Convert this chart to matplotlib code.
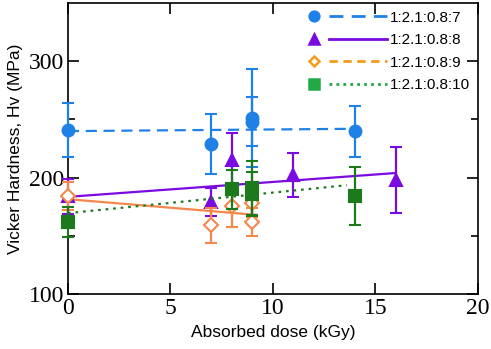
import numpy as np
import matplotlib
matplotlib.use("Agg")
import matplotlib.pyplot as plt
from matplotlib.lines import Line2D
from matplotlib.legend_handler import HandlerLine2DCompound

# ratios in the legend
etiquetas = ["1:2.1:0.8:7", "1:2.1:0.8:8", "1:2.1:0.8:9", "1:2.1:0.8:10"]

# 1:2.1:0.8:7 (blue circles)
x7 = [0, 7, 9, 9, 14]
y7 = [241, 229, 251, 248, 240]
e7 = [23, 26, 42, 21, 22]

# 1:2.1:0.8:8 (purple triangles)
x8 = [0, 7, 8, 11, 16]
y8 = [184, 179, 215, 202, 198]
e8 = [15, 12, 23, 19, 28]

# 1:2.1:0.8:9 (orange open diamonds)
x9 = [0, 7, 8, 9, 9]
y9 = [184, 159, 176, 178, 162]
e9 = [12, 15, 18, 12, 12]

# 1:2.1:0.8:10 (green squares)
x10 = [0, 8, 9, 9, 14]
y10 = [162, 190, 191, 186, 184]
e10 = [13, 17, 23, 19, 25]

# trend lines (end points)
linea7_x, linea7_y = [0, 14], [240, 242]
linea8_x, linea8_y = [0, 16], [183.5, 204]
linea9_x, linea9_y = [0, 9.2], [181.5, 168]
linea10_x, linea10_y = [0, 13.6], [169.5, 193.5]

azul = "#1f80e6"
morado = "#7a0ae0"
naranja = "#f4874b"
verde = "#1c7a1c"


# marker on the left, line on the right (like the original legend)
class MarcadorIzq(HandlerLine2DCompound):
    def get_xdata(self, legend, xdescent, ydescent, width, height, fontsize):
        xdata = np.array([-xdescent + 0.22 * width, -xdescent + width])
        xmark = np.array([-xdescent + 0.02 * width])
        return xdata, xmark


fig = plt.figure(figsize=(4.91, 3.49), dpi=100)
ax = fig.add_axes([0.1385, 0.1576, 0.835, 0.8334])

series = [
    (x7, y7, e7, linea7_x, linea7_y, azul, "o", True, (0, (5, 3)), (0, (5, 3)), "#1f80e6"),
    (x8, y8, e8, linea8_x, linea8_y, morado, "^", True, "-", "-", "#7a0ae0"),
    (x9, y9, e9, linea9_x, linea9_y, naranja, "D", False, "-", (0, (3, 2)), "#f59b1b"),
    (x10, y10, e10, linea10_x, linea10_y, verde, "s", True, (0, (1.2, 2.2)), (0, (1, 1.5)), "#22a845"),
]

handles = []
for i, (x, y, e, lx, ly, c, m, lleno, ls, ls_ley, cley) in enumerate(series):
    ms = 7 if m == "D" else 8.5
    ax.plot(lx, ly, color=c, lw=1.6, ls=ls, zorder=2 + i, clip_on=False)
    cont = ax.errorbar(x, y, yerr=e, fmt=m, color=c, ms=ms, mfc=(c if lleno else "white"),
                       mec=c, mew=1.5, elinewidth=1.6, capsize=4, capthick=1.6, zorder=3 + i)
    for art in cont.get_children():
        art.set_clip_on(False)
    h = Line2D([], [], marker=m, color=cley, ls=ls_ley, lw=2, ms=7 if m != "D" else 5.5,
               mfc=(cley if lleno else "white"), mec=cley, mew=1.8)
    handles.append(h)

ax.set_xlim(0, 20)
ax.set_ylim(100, 350)
ax.set_xticks([0, 5, 10, 15, 20])
ax.set_yticks([100, 200, 300])
ax.set_yticks([150, 250], minor=True)
ax.tick_params(which="both", direction="in", top=True, right=True, width=1.2)
ax.tick_params(which="major", length=8, labelsize=17, pad=3)
ax.tick_params(which="minor", length=5)
for lab in ax.get_xticklabels() + ax.get_yticklabels():
    lab.set_fontfamily("Liberation Serif")
for s in ax.spines.values():
    s.set_linewidth(1.2)

ax.set_xlabel("Absorbed dose (kGy)", fontsize=12.5, family="Liberation Sans", labelpad=4)
ax.set_ylabel("Vicker Hardness, Hv (MPa)", fontsize=12.5, family="Liberation Sans", labelpad=4)

leg = ax.legend(handles, etiquetas, handler_map={Line2D: MarcadorIzq()},
                loc="upper right", frameon=False, prop={"family": "Liberation Sans", "size": 11},
                handlelength=4.9, handletextpad=0.2, labelspacing=0.55,
                borderaxespad=0.1)
leg.set_zorder(20)

plt.savefig("out.png", dpi=100)
